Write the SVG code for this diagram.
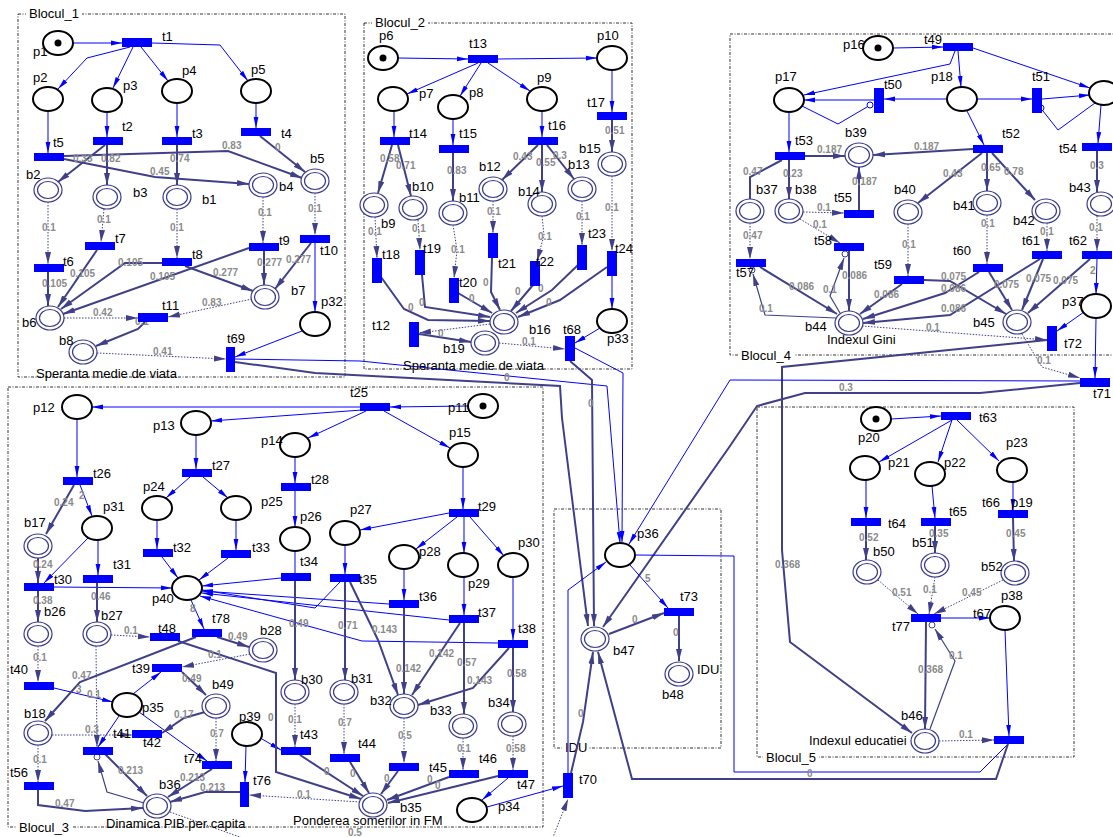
<svg xmlns="http://www.w3.org/2000/svg" width="1113" height="837" viewBox="0 0 1113 837">
<style>
.pl{fill:#fff;stroke:#000;stroke-width:2}
.bo{fill:#fff;stroke:#3a3a8e;stroke-width:1.2}
.bi{fill:none;stroke:#3a3a8e;stroke-width:1.2}
.tr{fill:#0000ff}
.tk{fill:#000}
.c{fill:none;stroke:#0000ff;stroke-width:1;marker-end:url(#ab)}
.cn{fill:none;stroke:#0000ff;stroke-width:1}
.m{fill:none;stroke:#40408a;stroke-width:2;marker-end:url(#an)}
.mn{fill:none;stroke:#40408a;stroke-width:2}
.h{fill:none;stroke:#40408a;stroke-width:1.2;marker-end:url(#an)}
.d{fill:none;stroke:#40408a;stroke-width:1;stroke-dasharray:1.5 1.5;marker-end:url(#an)}
.dn{fill:none;stroke:#40408a;stroke-width:1;stroke-dasharray:1.5 1.5}
.inh{fill:#fff;stroke:#40408a;stroke-width:1}
.lb{font-family:'Liberation Sans',Arial,sans-serif;font-size:13px;fill:#000}
.w{font-family:'Liberation Sans',Arial,sans-serif;font-size:10px;font-weight:bold;fill:#8a8a8a}
.box{fill:none;stroke:#333;stroke-width:1;stroke-dasharray:3 1.5 1 1.5}
.bg{fill:#fff}
</style>
<defs>
<marker id="ab" markerWidth="11" markerHeight="6" refX="11" refY="3" orient="auto" markerUnits="userSpaceOnUse"><path d="M0,0.6 L11,3 L0,5.4 z" fill="#0000ff"/></marker>
<marker id="an" markerWidth="12" markerHeight="7" refX="12" refY="3.5" orient="auto" markerUnits="userSpaceOnUse"><path d="M0,0.5 L12,3.5 L0,6.5 z" fill="#40408a"/></marker>
</defs>
<rect width="1113" height="837" fill="#fff"/>

<g id="blocks">
<rect class="box" x="18" y="14" width="327" height="363"/>
<rect class="bg" x="26" y="6" width="56" height="15"/><text class="lb" x="29" y="18">Blocul_1</text>
<rect class="box" x="364" y="23" width="268" height="346"/>
<rect class="bg" x="372" y="15" width="56" height="15"/><text class="lb" x="375" y="27">Blocul_2</text>
<rect class="box" x="730" y="34" width="400" height="321"/>
<rect class="bg" x="738" y="349" width="56" height="15"/><text class="lb" x="741" y="360">Blocul_4</text>
<rect class="box" x="8" y="387" width="535" height="440"/>
<rect class="bg" x="16" y="821" width="56" height="15"/><text class="lb" x="19" y="832">Blocul_3</text>
<rect class="box" x="757" y="407" width="317" height="350"/>
<rect class="bg" x="763" y="751" width="56" height="15"/><text class="lb" x="766" y="762">Blocul_5</text>
<rect class="box" x="554" y="509" width="167" height="239"/>
<rect class="bg" x="562" y="742" width="26" height="14"/><text class="lb" x="565" y="752">IDU</text>
</g>

<g id="connectors">
<!-- Block 1 -->
<path class="c" d="M73,43 L122,43"/>
<path class="c" d="M130,47 L87,58 L58,89"/>
<path class="c" d="M133,47 L113,88"/>
<path class="c" d="M141,47 L168,81"/>
<path class="c" d="M152,43 L220,45 L248,81"/>
<path class="c" d="M48,111 L48,153"/>
<path class="c" d="M107,112 L107,137"/>
<path class="c" d="M177,103 L177,137"/>
<path class="c" d="M256,103 L256,128"/>
<path class="c" d="M315,243 L315,312"/>
<path class="c" d="M302,331 L235,357"/>
<path class="m" d="M105,145 L58,182"/>
<path class="m" d="M107,145 L107,185"/>
<path class="m" d="M177,145 L177,185"/>
<path class="m" d="M260,136 L305,172"/>
<path class="m" d="M64,156 L228,151 L302,178"/>
<path class="m" d="M64,159 L155,177 L249,184"/>
<path class="d" d="M48,202 L48,264"/>
<path class="d" d="M104,209 L101,242"/>
<path class="d" d="M177,209 L177,258"/>
<path class="d" d="M263,197 L263,243"/>
<path class="d" d="M315,193 L315,235"/>
<path class="m" d="M48,272 L48,306"/>
<path class="m" d="M97,250 L58,307"/>
<path class="m" d="M165,263 L125,263 L61,309"/>
<path class="m" d="M249,248 L63,314"/>
<path class="m" d="M185,266 L253,291"/>
<path class="m" d="M264,251 L264,285"/>
<path class="m" d="M311,243 L275,289"/>
<path class="d" d="M252,299 L168,317"/>
<path class="d" d="M64,318 L138,318"/>
<path class="m" d="M145,322 L138,329 L96,346"/>
<path class="d" d="M97,353 L226,359"/>
<!-- Block 2 -->
<path class="c" d="M398,58 L468,59"/>
<path class="c" d="M498,59 L597,58"/>
<path class="c" d="M478,63 L407,94"/>
<path class="c" d="M481,63 L460,96"/>
<path class="c" d="M488,63 L530,91"/>
<path class="c" d="M394,111 L394,137"/>
<path class="c" d="M453,119 L453,145"/>
<path class="c" d="M542,111 L542,137"/>
<path class="c" d="M612,70 L612,112"/>
<path class="c" d="M612,276 L612,309"/>
<path class="c" d="M600,328 L575,343"/>
<path class="m" d="M392,145 L378,193"/>
<path class="m" d="M398,145 L411,196"/>
<path class="m" d="M453,153 L453,201"/>
<path class="m" d="M538,145 L502,180"/>
<path class="m" d="M542,145 L542,192"/>
<path class="m" d="M547,145 L574,179"/>
<path class="m" d="M612,120 L612,152"/>
<path class="d" d="M375,217 L377,258"/>
<path class="d" d="M418,220 L420,250"/>
<path class="d" d="M453,225 L457,250 L454,278"/>
<path class="d" d="M493,201 L493,233"/>
<path class="d" d="M542,216 L544,235 L537,261"/>
<path class="d" d="M582,201 L582,245"/>
<path class="d" d="M612,176 L612,251"/>
<path class="m" d="M381,277 L404,309 L428,320 L490,321"/>
<path class="m" d="M422,275 L425,307 L490,317"/>
<path class="m" d="M458,293 L492,313"/>
<path class="m" d="M492,258 L491,292 L500,310"/>
<path class="m" d="M533,285 L511,311"/>
<path class="m" d="M578,265 L552,290 L516,313"/>
<path class="m" d="M607,267 L560,300 L518,317"/>
<path class="d" d="M490,324 L419,333"/>
<path class="m" d="M419,334 L471,342"/>
<path class="d" d="M499,343 L565,349"/>
<!-- Block 4 -->
<path class="c" d="M893,48 L943,47"/>
<path class="c" d="M955,51 L950,64 L804,95"/>
<path class="c" d="M958,51 L961,87"/>
<path class="c" d="M973,48 L1090,88"/>
<path class="c" d="M947,99 L884,99"/>
<path class="c" d="M874,100 L804,100"/>
<path class="c" d="M977,99 L1032,99"/>
<path class="c" d="M1042,99 L1090,95"/>
<path class="cn" d="M802,106 L838,124 L867,107"/>
<circle cx="870" cy="105" r="3" fill="#fff" stroke="#0000ff"/>
<path class="cn" d="M1095,103 L1058,130 L1043,111"/>
<circle cx="1041" cy="108" r="3" fill="#fff" stroke="#0000ff"/>
<path class="c" d="M789,112 L789,152"/>
<path class="c" d="M967,111 L984,145"/>
<path class="c" d="M1101,105 L1098,143"/>
<path class="c" d="M1097,259 L1096,294"/>
<path class="c" d="M1084,312 L1057,331"/>
<path class="c" d="M1096,318 L1095,378"/>
<path class="m" d="M805,156 L845,156"/>
<path class="m" d="M973,149 L873,155"/>
<path class="mn" d="M782,160 L750,177 L750,199"/>
<path class="m" d="M789,160 L789,199"/>
<path class="m" d="M859,210 L859,167"/>
<path class="m" d="M982,153 L918,203"/>
<path class="m" d="M987,153 L987,191"/>
<path class="m" d="M992,153 L1035,200"/>
<path class="m" d="M1097,151 L1097,192"/>
<path class="d" d="M803,212 L844,213"/>
<path class="d" d="M800,219 L840,243"/>
<path class="d" d="M750,223 L750,259"/>
<path class="d" d="M908,224 L908,276"/>
<path class="d" d="M987,215 L987,264"/>
<path class="d" d="M1047,223 L1047,251"/>
<path class="d" d="M1097,216 L1097,251"/>
<path class="m" d="M760,267 L837,314"/>
<path class="h" d="M836,318 L765,315 L753,274"/>
<circle class="inh" cx="752" cy="270" r="3"/>
<path class="m" d="M849,251 L849,311"/>
<path class="h" d="M840,313 L830,296 L844,258"/>
<circle class="inh" cx="845" cy="254" r="3"/>
<path class="m" d="M902,284 L860,314"/>
<path class="m" d="M924,280 L950,281 L1006,314"/>
<path class="m" d="M979,272 L945,293 L863,319"/>
<path class="m" d="M989,272 L1012,310"/>
<path class="m" d="M1040,259 L950,315 L863,323"/>
<path class="m" d="M1043,259 L1022,310"/>
<path class="m" d="M1090,259 L1028,313"/>
<path class="d" d="M862,326 L1047,340"/>
<path class="d" d="M1022,334 L1042,367 L1080,378"/>
<path class="m" d="M1047,340 L782,367 L782,550 L790,642 L912,733"/>
<path class="m" d="M1080,383 L980,393 L805,393 L757,406 L730,446 L603,627"/>
<path class="c" d="M1080,381 L730,380 L629,544"/>
<!-- Block 5 -->
<path class="c" d="M891,419 L941,416"/>
<path class="c" d="M952,420 L879,462"/>
<path class="c" d="M952,420 L938,462"/>
<path class="c" d="M957,420 L999,461"/>
<path class="c" d="M866,480 L866,518"/>
<path class="c" d="M932,486 L935,518"/>
<path class="c" d="M1013,482 L1013,510"/>
<path class="c" d="M941,618 L990,618"/>
<path class="c" d="M1005,630 L1009,736"/>
<path class="cn" d="M1008,744 L980,772 L734,772 L734,556 L636,555"/>
<path class="m" d="M866,526 L866,560"/>
<path class="m" d="M935,526 L935,553"/>
<path class="m" d="M1013,518 L1014,561"/>
<path class="d" d="M878,580 L918,614"/>
<path class="d" d="M935,577 L929,614"/>
<path class="d" d="M1003,580 L934,614"/>
<path class="m" d="M926,622 L925,729"/>
<path class="h" d="M930,729 L955,661 L935,629"/>
<circle class="inh" cx="932" cy="625" r="3"/>
<path class="d" d="M939,741 L994,740"/>
<path class="m" d="M1008,744 L996,779 L632,779 L598,652"/>
<!-- IDU -->
<path class="c" d="M575,348 L623,373 L622,542"/>
<path class="c" d="M235,359 L360,361 L607,386 L620,543"/>
<path class="m" d="M235,362 L315,373 L560,386 L562,418 L588,626"/>
<path class="m" d="M570,361 L592,380 L594,626"/>
<path class="c" d="M630,565 L668,608"/>
<path class="m" d="M609,634 L664,613"/>
<path class="m" d="M679,616 L679,661"/>
<path class="m" d="M571,773 L583,722 L593,652"/>
<path class="c" d="M568,773 L568,590 L606,562"/>
<path class="c" d="M487,807 L563,786"/>
<path class="d" d="M170,812 L262,845 L550,845 L568,799"/>
<!-- Block 3 -->
<path class="c" d="M468,406 L390,407"/>
<path class="c" d="M360,407 L92,407"/>
<path class="c" d="M362,410 L211,421"/>
<path class="c" d="M366,411 L308,438"/>
<path class="c" d="M384,411 L450,448"/>
<path class="c" d="M77,419 L77,477"/>
<path class="c" d="M196,435 L196,469"/>
<path class="c" d="M295,457 L295,483"/>
<path class="c" d="M463,467 L463,509"/>
<path class="c" d="M190,477 L166,498"/>
<path class="c" d="M203,477 L228,498"/>
<path class="c" d="M295,491 L295,527"/>
<path class="c" d="M449,513 L360,530"/>
<path class="c" d="M457,517 L416,549"/>
<path class="c" d="M464,517 L464,553"/>
<path class="c" d="M470,517 L504,556"/>
<path class="c" d="M80,485 L92,516"/>
<path class="c" d="M157,520 L157,549"/>
<path class="c" d="M236,520 L236,550"/>
<path class="cn" d="M295,551 L295,573"/>
<path class="c" d="M345,545 L345,574"/>
<path class="c" d="M404,569 L404,600"/>
<path class="c" d="M464,577 L464,615"/>
<path class="c" d="M513,577 L513,640"/>
<path class="c" d="M88,538 L44,583"/>
<path class="c" d="M98,540 L98,575"/>
<path class="c" d="M162,557 L178,578"/>
<path class="c" d="M228,558 L199,580"/>
<path class="c" d="M281,578 L202,586"/>
<path class="c" d="M340,582 L315,608 L202,590"/>
<path class="c" d="M389,604 L202,591"/>
<path class="c" d="M449,620 L202,593"/>
<path class="c" d="M498,643 L362,641 L200,596"/>
<path class="c" d="M54,587 L172,588"/>
<path class="c" d="M191,600 L204,629"/>
<path class="c" d="M54,688 L113,702"/>
<path class="c" d="M133,694 L161,672"/>
<path class="c" d="M119,716 L98,747"/>
<path class="c" d="M139,712 L207,761"/>
<path class="c" d="M246,746 L245,782"/>
<path class="c" d="M262,739 L281,750"/>
<path class="m" d="M74,485 L46,534"/>
<path class="m" d="M38,558 L38,583"/>
<path class="m" d="M38,591 L38,622"/>
<path class="m" d="M97,583 L97,622"/>
<path class="d" d="M38,646 L38,682"/>
<path class="d" d="M96,646 L97,747"/>
<path class="d" d="M111,635 L150,637"/>
<path class="m" d="M217,637 L249,647"/>
<path class="d" d="M250,654 L182,667"/>
<path class="m" d="M182,672 L206,695"/>
<path class="m" d="M196,637 L80,682 L45,721"/>
<path class="m" d="M178,641 L276,673 L276,772 L361,799"/>
<path class="d" d="M52,735 L132,735"/>
<path class="d" d="M38,745 L38,782"/>
<path class="m" d="M38,790 L38,805 L85,811 L143,808"/>
<path class="m" d="M105,754 L147,796"/>
<path class="h" d="M144,803 L107,792 L98,761"/>
<circle class="inh" cx="97" cy="757" r="3"/>
<path class="m" d="M212,769 L168,797"/>
<path class="m" d="M240,792 L205,792 L170,802"/>
<path class="d" d="M360,802 L249,795"/>
<path class="m" d="M205,712 L184,718 L162,733"/>
<path class="d" d="M216,718 L216,761"/>
<path class="m" d="M295,581 L295,680"/>
<path class="m" d="M345,582 L345,680"/>
<path class="m" d="M350,582 L378,640 L398,695"/>
<path class="m" d="M404,608 L404,694"/>
<path class="m" d="M460,623 L412,695"/>
<path class="m" d="M464,623 L464,714"/>
<path class="m" d="M509,648 L473,688 L418,705"/>
<path class="m" d="M513,648 L513,712"/>
<path class="d" d="M295,704 L295,747"/>
<path class="d" d="M344,704 L344,754"/>
<path class="d" d="M404,718 L404,763"/>
<path class="d" d="M463,738 L463,770"/>
<path class="d" d="M513,736 L513,770"/>
<path class="m" d="M300,755 L363,796"/>
<path class="m" d="M350,762 L369,793"/>
<path class="m" d="M398,771 L381,794"/>
<path class="m" d="M449,777 L387,800"/>
<path class="m" d="M498,776 L388,803"/>
<path class="c" d="M508,778 L482,800"/>
</g>

<g id="arc-labels">
<text class="w" x="73" y="162">0.33</text><text class="w" x="101" y="162">0.82</text><text class="w" x="170" y="162">0.74</text>
<text class="w" x="222" y="149">0.83</text><text class="w" x="275" y="151">0</text><text class="w" x="150" y="175">0.45</text>
<text class="w" x="42" y="231">0.1</text><text class="w" x="97" y="223">0.1</text><text class="w" x="170" y="231">0.1</text>
<text class="w" x="258" y="216">0.1</text><text class="w" x="308" y="212">0.1</text>
<text class="w" x="118" y="266">0.105</text><text class="w" x="70" y="277">0.105</text><text class="w" x="150" y="280">0.105</text><text class="w" x="42" y="287">0.105</text>
<text class="w" x="257" y="266">0.277</text><text class="w" x="286" y="263">0.277</text><text class="w" x="213" y="276">0.277</text>
<text class="w" x="93" y="316">0.42</text><text class="w" x="202" y="306">0.83</text><text class="w" x="135" y="325">0.1</text><text class="w" x="153" y="355">0.41</text>
<text class="w" x="380" y="162">0.58</text><text class="w" x="396" y="169">0.71</text><text class="w" x="447" y="174">0.83</text>
<text class="w" x="513" y="160">0.43</text><text class="w" x="536" y="166">0.55</text><text class="w" x="553" y="159">0.3</text><text class="w" x="605" y="134">0.51</text>
<text class="w" x="368" y="235">0.1</text><text class="w" x="412" y="232">0.1</text><text class="w" x="451" y="253">0.1</text><text class="w" x="487" y="215">0.1</text>
<text class="w" x="538" y="240">0.1</text><text class="w" x="576" y="220">0.1</text><text class="w" x="605" y="211">0.1</text>
<text class="w" x="408" y="311">0</text><text class="w" x="419" y="306">0</text><text class="w" x="469" y="302">0</text><text class="w" x="483" y="286">0</text>
<text class="w" x="515" y="295">0</text><text class="w" x="538" y="292">0</text><text class="w" x="546" y="306">0</text><text class="w" x="438" y="337">0</text><text class="w" x="522" y="345">0.1</text>
<text class="w" x="504" y="381">0</text><text class="w" x="588" y="407">0</text>
<text class="w" x="817" y="153">0.187</text><text class="w" x="914" y="150">0.187</text><text class="w" x="743" y="175">0.47</text><text class="w" x="783" y="177">0.23</text>
<text class="w" x="852" y="185">0.187</text><text class="w" x="943" y="177">0.43</text><text class="w" x="981" y="171">0.65</text><text class="w" x="1004" y="175">0.78</text><text class="w" x="1090" y="169">0.3</text>
<text class="w" x="817" y="211">0.1</text><text class="w" x="813" y="228">0.1</text><text class="w" x="743" y="239">0.47</text><text class="w" x="902" y="248">0.1</text>
<text class="w" x="981" y="227">0.1</text><text class="w" x="1040" y="235">0.1</text><text class="w" x="1089" y="231">0.1</text><text class="w" x="1090" y="274">2</text>
<text class="w" x="842" y="279">0.086</text><text class="w" x="789" y="290">0.086</text><text class="w" x="823" y="293">0.1</text><text class="w" x="759" y="312">0.1</text>
<text class="w" x="874" y="298">0.086</text><text class="w" x="941" y="280">0.075</text><text class="w" x="941" y="292">0.086</text><text class="w" x="994" y="288">0.075</text>
<text class="w" x="1026" y="282">0.075</text><text class="w" x="1053" y="284">0.075</text><text class="w" x="941" y="312">0.086</text><text class="w" x="926" y="331">0.1</text>
<text class="w" x="1037" y="364">0.1</text><text class="w" x="839" y="391">0.3</text>
<text class="w" x="859" y="541">0.52</text><text class="w" x="929" y="537">0.35</text><text class="w" x="1006" y="537">0.45</text>
<text class="w" x="892" y="596">0.51</text><text class="w" x="923" y="593">0.1</text><text class="w" x="962" y="596">0.45</text>
<text class="w" x="949" y="659">0.1</text><text class="w" x="918" y="673">0.368</text><text class="w" x="959" y="738">0.1</text>
<text class="w" x="807" y="777">0</text><text class="w" x="775" y="568">0.368</text>
<text class="w" x="645" y="582">5</text><text class="w" x="632" y="623">0</text><text class="w" x="673" y="636">0</text><text class="w" x="578" y="717">0</text>
<text class="w" x="54" y="506">0.24</text><text class="w" x="79" y="499">2</text><text class="w" x="33" y="568">0.24</text><text class="w" x="33" y="604">0.38</text>
<text class="w" x="91" y="600">0.46</text><text class="w" x="33" y="661">0.1</text><text class="w" x="124" y="634">0.1</text><text class="w" x="190" y="612">8</text>
<text class="w" x="228" y="640">0.49</text><text class="w" x="208" y="658">0.1</text><text class="w" x="72" y="679">0.47</text><text class="w" x="76" y="693">3</text>
<text class="w" x="87" y="698">0.1</text><text class="w" x="182" y="682">0.49</text><text class="w" x="174" y="718">0.17</text><text class="w" x="85" y="733">0.3</text>
<text class="w" x="210" y="737">0.7</text><text class="w" x="268" y="721">0</text><text class="w" x="288" y="723">0.1</text><text class="w" x="338" y="726">0.7</text>
<text class="w" x="33" y="763">0.1</text><text class="w" x="118" y="774">0.213</text><text class="w" x="180" y="781">0.213</text><text class="w" x="200" y="791">0.213</text>
<text class="w" x="297" y="798">0.1</text><text class="w" x="55" y="807">0.47</text><text class="w" x="324" y="775">0</text><text class="w" x="350" y="777">0</text>
<text class="w" x="348" y="836">0.5</text>
<text class="w" x="289" y="627">0.49</text><text class="w" x="338" y="629">0.71</text><text class="w" x="372" y="633">0.143</text><text class="w" x="396" y="672">0.142</text>
<text class="w" x="429" y="657">0.142</text><text class="w" x="457" y="666">0.57</text><text class="w" x="467" y="684">0.143</text><text class="w" x="507" y="677">0.58</text>
<text class="w" x="398" y="739">0.5</text><text class="w" x="457" y="752">0.1</text><text class="w" x="506" y="752">0.58</text>
<text class="w" x="384" y="782">0</text><text class="w" x="427" y="783">0</text><text class="w" x="435" y="789">0</text>
</g>

<!-- Block 1 nodes -->
<g id="p1"><ellipse class="pl" cx="58" cy="43" rx="15" ry="12"/><circle class="tk" cx="58" cy="43" r="3.5"/><text class="lb" x="33" y="56">p1</text></g>
<g id="t1"><rect class="tr" x="122" y="38" width="30" height="9"/><text class="lb" x="162" y="41">t1</text></g>
<g id="p2"><ellipse class="pl" cx="48" cy="99" rx="15" ry="12"/><text class="lb" x="33" y="82">p2</text></g>
<g id="p3"><ellipse class="pl" cx="107" cy="100" rx="15" ry="12"/><text class="lb" x="123" y="90">p3</text></g>
<g id="p4"><ellipse class="pl" cx="177" cy="91" rx="15" ry="12"/><text class="lb" x="182" y="75">p4</text></g>
<g id="p5"><ellipse class="pl" cx="256" cy="91" rx="15" ry="12"/><text class="lb" x="251" y="74">p5</text></g>
<g id="t2"><rect class="tr" x="93" y="137" width="30" height="8"/><text class="lb" x="122" y="131">t2</text></g>
<g id="t3"><rect class="tr" x="162" y="137" width="30" height="8"/><text class="lb" x="192" y="138">t3</text></g>
<g id="t4"><rect class="tr" x="241" y="128" width="30" height="8"/><text class="lb" x="281" y="138">t4</text></g>
<g id="t5"><rect class="tr" x="34" y="153" width="30" height="8"/><text class="lb" x="53" y="147">t5</text></g>
<g id="b2"><ellipse class="bo" cx="48" cy="190" rx="14" ry="12"/><ellipse class="bi" cx="48" cy="190" rx="10.5" ry="8.5"/><text class="lb" x="26" y="179">b2</text></g>
<g id="b3"><ellipse class="bo" cx="107" cy="197" rx="14" ry="12"/><ellipse class="bi" cx="107" cy="197" rx="10.5" ry="8.5"/><text class="lb" x="133" y="197">b3</text></g>
<g id="b1"><ellipse class="bo" cx="177" cy="197" rx="14" ry="12"/><ellipse class="bi" cx="177" cy="197" rx="10.5" ry="8.5"/><text class="lb" x="202" y="204">b1</text></g>
<g id="b4"><ellipse class="bo" cx="263" cy="185" rx="14" ry="12"/><ellipse class="bi" cx="263" cy="185" rx="10.5" ry="8.5"/><text class="lb" x="279" y="191">b4</text></g>
<g id="b5"><ellipse class="bo" cx="315" cy="181" rx="14" ry="12"/><ellipse class="bi" cx="315" cy="181" rx="10.5" ry="8.5"/><text class="lb" x="310" y="163">b5</text></g>
<g id="t6"><rect class="tr" x="34" y="264" width="30" height="8"/><text class="lb" x="63" y="266">t6</text></g>
<g id="t7"><rect class="tr" x="85" y="242" width="30" height="8"/><text class="lb" x="115" y="243">t7</text></g>
<g id="t8"><rect class="tr" x="162" y="258" width="30" height="8"/><text class="lb" x="192" y="259">t8</text></g>
<g id="t9"><rect class="tr" x="249" y="243" width="30" height="8"/><text class="lb" x="279" y="245">t9</text></g>
<g id="t10"><rect class="tr" x="300" y="235" width="30" height="8"/><text class="lb" x="320" y="255">t10</text></g>
<g id="b6"><ellipse class="bo" cx="50" cy="318" rx="14" ry="12"/><ellipse class="bi" cx="50" cy="318" rx="10.5" ry="8.5"/><text class="lb" x="22" y="327">b6</text></g>
<g id="b7"><ellipse class="bo" cx="265" cy="297" rx="14" ry="12"/><ellipse class="bi" cx="265" cy="297" rx="10.5" ry="8.5"/><text class="lb" x="291" y="295">b7</text></g>
<g id="t11"><rect class="tr" x="138" y="313" width="30" height="9"/><text class="lb" x="162" y="310">t11</text></g>
<g id="b8"><ellipse class="bo" cx="83" cy="352" rx="14" ry="12"/><ellipse class="bi" cx="83" cy="352" rx="10.5" ry="8.5"/><text class="lb" x="59" y="345">b8</text><text class="lb" x="36" y="378">Speranta medie de viata</text></g>
<g id="p32"><ellipse class="pl" cx="315" cy="324" rx="15" ry="12"/><text class="lb" x="321" y="306">p32</text></g>
<g id="t69"><rect class="tr" x="226" y="347" width="9" height="25"/><text class="lb" x="227" y="343">t69</text></g>

<!-- Block 2 nodes -->
<g id="p6"><ellipse class="pl" cx="383" cy="58" rx="15" ry="12"/><circle class="tk" cx="383" cy="58" r="3.5"/><text class="lb" x="379" y="40">p6</text></g>
<g id="t13"><rect class="tr" x="468" y="55" width="30" height="8"/><text class="lb" x="469" y="48">t13</text></g>
<g id="p10"><ellipse class="pl" cx="612" cy="58" rx="15" ry="12"/><text class="lb" x="597" y="40">p10</text></g>
<g id="p7"><ellipse class="pl" cx="393" cy="99" rx="15" ry="12"/><text class="lb" x="419" y="98">p7</text></g>
<g id="p8"><ellipse class="pl" cx="453" cy="107" rx="15" ry="12"/><text class="lb" x="469" y="97">p8</text></g>
<g id="p9"><ellipse class="pl" cx="542" cy="99" rx="15" ry="12"/><text class="lb" x="537" y="82">p9</text></g>
<g id="t14"><rect class="tr" x="380" y="137" width="30" height="8"/><text class="lb" x="409" y="138">t14</text></g>
<g id="t15"><rect class="tr" x="439" y="145" width="30" height="8"/><text class="lb" x="459" y="138">t15</text></g>
<g id="t16"><rect class="tr" x="528" y="137" width="30" height="8"/><text class="lb" x="548" y="130">t16</text></g>
<g id="t17"><rect class="tr" x="597" y="112" width="30" height="8"/><text class="lb" x="587" y="107">t17</text></g>
<g id="b9"><ellipse class="bo" cx="374" cy="205" rx="14" ry="12"/><ellipse class="bi" cx="374" cy="205" rx="10.5" ry="8.5"/><text class="lb" x="381" y="228">b9</text></g>
<g id="b10"><ellipse class="bo" cx="413" cy="208" rx="14" ry="12"/><ellipse class="bi" cx="413" cy="208" rx="10.5" ry="8.5"/><text class="lb" x="412" y="191">b10</text></g>
<g id="b11"><ellipse class="bo" cx="453" cy="213" rx="14" ry="12"/><ellipse class="bi" cx="453" cy="213" rx="10.5" ry="8.5"/><text class="lb" x="459" y="202">b11</text></g>
<g id="b12"><ellipse class="bo" cx="493" cy="189" rx="14" ry="12"/><ellipse class="bi" cx="493" cy="189" rx="10.5" ry="8.5"/><text class="lb" x="479" y="171">b12</text></g>
<g id="b14"><ellipse class="bo" cx="542" cy="204" rx="14" ry="12"/><ellipse class="bi" cx="542" cy="204" rx="10.5" ry="8.5"/><text class="lb" x="518" y="196">b14</text></g>
<g id="b13"><ellipse class="bo" cx="582" cy="189" rx="14" ry="12"/><ellipse class="bi" cx="582" cy="189" rx="10.5" ry="8.5"/><text class="lb" x="568" y="169">b13</text></g>
<g id="b15"><ellipse class="bo" cx="612" cy="164" rx="14" ry="12"/><ellipse class="bi" cx="612" cy="164" rx="10.5" ry="8.5"/><text class="lb" x="579" y="153">b15</text></g>
<g id="t18"><rect class="tr" x="372" y="258" width="10" height="25"/><text class="lb" x="382" y="259">t18</text></g>
<g id="t19"><rect class="tr" x="415" y="250" width="10" height="25"/><text class="lb" x="423" y="253">t19</text></g>
<g id="t20"><rect class="tr" x="449" y="278" width="10" height="25"/><text class="lb" x="459" y="287">t20</text></g>
<g id="t21"><rect class="tr" x="488" y="233" width="10" height="25"/><text class="lb" x="498" y="268">t21</text></g>
<g id="t22"><rect class="tr" x="530" y="261" width="10" height="25"/><text class="lb" x="536" y="266">t22</text></g>
<g id="t23"><rect class="tr" x="577" y="245" width="10" height="25"/><text class="lb" x="588" y="238">t23</text></g>
<g id="t24"><rect class="tr" x="607" y="251" width="10" height="25"/><text class="lb" x="615" y="253">t24</text></g>
<g id="b16"><ellipse class="bo" cx="504" cy="322" rx="14" ry="12"/><ellipse class="bi" cx="504" cy="322" rx="10.5" ry="8.5"/><text class="lb" x="529" y="334">b16</text></g>
<g id="t12"><rect class="tr" x="409" y="322" width="10" height="25"/><text class="lb" x="372" y="330">t12</text></g>
<g id="b19"><ellipse class="bo" cx="485" cy="343" rx="14" ry="12"/><ellipse class="bi" cx="485" cy="343" rx="10.5" ry="8.5"/><text class="lb" x="443" y="353">b19</text><text class="lb" x="403" y="370">Speranta medie de viata</text></g>
<g id="t68"><rect class="tr" x="565" y="336" width="10" height="25"/><text class="lb" x="563" y="334">t68</text></g>
<g id="p33"><ellipse class="pl" cx="612" cy="321" rx="15" ry="12"/><text class="lb" x="607" y="343">p33</text></g>

<!-- Block 4 nodes -->
<g id="p16"><ellipse class="pl" cx="878" cy="48" rx="15" ry="12"/><circle class="tk" cx="878" cy="48" r="3.5"/><text class="lb" x="843" y="49">p16</text></g>
<g id="t49"><rect class="tr" x="943" y="43" width="30" height="8"/><text class="lb" x="924" y="44">t49</text></g>
<g id="p17"><ellipse class="pl" cx="789" cy="100" rx="15" ry="12"/><text class="lb" x="775" y="81">p17</text></g>
<g id="t50"><rect class="tr" x="874" y="88" width="10" height="25"/><text class="lb" x="884" y="89">t50</text></g>
<g id="p18"><ellipse class="pl" cx="962" cy="99" rx="15" ry="12"/><text class="lb" x="931" y="81">p18</text></g>
<g id="t51"><rect class="tr" x="1032" y="88" width="10" height="25"/><text class="lb" x="1032" y="81">t51</text></g>
<g id="p19"><ellipse class="pl" cx="1104" cy="93" rx="15" ry="12"/></g>
<g id="t53"><rect class="tr" x="775" y="152" width="30" height="8"/><text class="lb" x="795" y="145">t53</text></g>
<g id="b39"><ellipse class="bo" cx="859" cy="155" rx="14" ry="12"/><ellipse class="bi" cx="859" cy="155" rx="10.5" ry="8.5"/><text class="lb" x="845" y="137">b39</text></g>
<g id="t52"><rect class="tr" x="973" y="145" width="30" height="8"/><text class="lb" x="1002" y="138">t52</text></g>
<g id="t54"><rect class="tr" x="1082" y="143" width="30" height="8"/><text class="lb" x="1059" y="153">t54</text></g>
<g id="b37"><ellipse class="bo" cx="750" cy="211" rx="14" ry="12"/><ellipse class="bi" cx="750" cy="211" rx="10.5" ry="8.5"/><text class="lb" x="756" y="194">b37</text></g>
<g id="b38"><ellipse class="bo" cx="789" cy="211" rx="14" ry="12"/><ellipse class="bi" cx="789" cy="211" rx="10.5" ry="8.5"/><text class="lb" x="795" y="194">b38</text></g>
<g id="t55"><rect class="tr" x="844" y="210" width="30" height="8"/><text class="lb" x="834" y="202">t55</text></g>
<g id="b40"><ellipse class="bo" cx="908" cy="212" rx="14" ry="12"/><ellipse class="bi" cx="908" cy="212" rx="10.5" ry="8.5"/><text class="lb" x="894" y="194">b40</text></g>
<g id="b41"><ellipse class="bo" cx="987" cy="203" rx="14" ry="12"/><ellipse class="bi" cx="987" cy="203" rx="10.5" ry="8.5"/><text class="lb" x="953" y="210">b41</text></g>
<g id="b42"><ellipse class="bo" cx="1046" cy="211" rx="14" ry="12"/><ellipse class="bi" cx="1046" cy="211" rx="10.5" ry="8.5"/><text class="lb" x="1013" y="225">b42</text></g>
<g id="b43"><ellipse class="bo" cx="1101" cy="204" rx="14" ry="12"/><ellipse class="bi" cx="1101" cy="204" rx="10.5" ry="8.5"/><text class="lb" x="1069" y="192">b43</text></g>
<g id="t58"><rect class="tr" x="834" y="243" width="30" height="8"/><text class="lb" x="814" y="245">t58</text></g>
<g id="t57"><rect class="tr" x="736" y="259" width="30" height="8"/><text class="lb" x="736" y="277">t57</text></g>
<g id="t59"><rect class="tr" x="894" y="276" width="30" height="8"/><text class="lb" x="874" y="269">t59</text></g>
<g id="t60"><rect class="tr" x="973" y="264" width="30" height="8"/><text class="lb" x="953" y="255">t60</text></g>
<g id="t61"><rect class="tr" x="1032" y="251" width="30" height="8"/><text class="lb" x="1022" y="245">t61</text></g>
<g id="t62"><rect class="tr" x="1082" y="251" width="30" height="8"/><text class="lb" x="1069" y="245">t62</text></g>
<g id="b44"><ellipse class="bo" cx="849" cy="323" rx="14" ry="12"/><ellipse class="bi" cx="849" cy="323" rx="10.5" ry="8.5"/><text class="lb" x="805" y="331">b44</text><text class="lb" x="827" y="344">Indexul Gini</text></g>
<g id="b45"><ellipse class="bo" cx="1017" cy="322" rx="14" ry="12"/><ellipse class="bi" cx="1017" cy="322" rx="10.5" ry="8.5"/><text class="lb" x="973" y="327">b45</text></g>
<g id="p37"><ellipse class="pl" cx="1096" cy="306" rx="15" ry="12"/><text class="lb" x="1062" y="306">p37</text></g>
<g id="t72"><rect class="tr" x="1047" y="326" width="10" height="25"/><text class="lb" x="1064" y="348">t72</text></g>
<g id="t71"><rect class="tr" x="1080" y="378" width="30" height="9"/><text class="lb" x="1093" y="398">t71</text></g>

<!-- Block 5 nodes -->
<g id="p20"><ellipse class="pl" cx="876" cy="419" rx="15" ry="12"/><circle class="tk" cx="876" cy="419" r="3.5"/><text class="lb" x="858" y="442">p20</text></g>
<g id="t63"><rect class="tr" x="941" y="412" width="30" height="8"/><text class="lb" x="979" y="422">t63</text></g>
<g id="p21"><ellipse class="pl" cx="865" cy="468" rx="15" ry="12"/><text class="lb" x="888" y="467">p21</text></g>
<g id="p22"><ellipse class="pl" cx="930" cy="474" rx="15" ry="12"/><text class="lb" x="944" y="467">p22</text></g>
<g id="p23"><ellipse class="pl" cx="1012" cy="470" rx="15" ry="12"/><text class="lb" x="1006" y="447">p23</text></g>
<g id="t64"><rect class="tr" x="851" y="518" width="30" height="8"/><text class="lb" x="888" y="528">t64</text></g>
<g id="t65"><rect class="tr" x="921" y="518" width="30" height="8"/><text class="lb" x="949" y="516">t65</text></g>
<g id="t66"><rect class="tr" x="998" y="510" width="30" height="8"/><text class="lb" x="982" y="507">t66</text><text class="lb" x="1011" y="507">p19</text></g>
<g id="b50"><ellipse class="bo" cx="867" cy="572" rx="14" ry="12"/><ellipse class="bi" cx="867" cy="572" rx="10.5" ry="8.5"/><text class="lb" x="873" y="556">b50</text></g>
<g id="b51"><ellipse class="bo" cx="935" cy="565" rx="14" ry="12"/><ellipse class="bi" cx="935" cy="565" rx="10.5" ry="8.5"/><text class="lb" x="912" y="547">b51</text></g>
<g id="b52"><ellipse class="bo" cx="1015" cy="573" rx="14" ry="12"/><ellipse class="bi" cx="1015" cy="573" rx="10.5" ry="8.5"/><text class="lb" x="981" y="571">b52</text></g>
<g id="t77"><rect class="tr" x="911" y="614" width="30" height="8"/><text class="lb" x="892" y="631">t77</text></g>
<g id="p38"><ellipse class="pl" cx="1005" cy="618" rx="15" ry="12"/><text class="lb" x="1001" y="600">p38</text></g>
<g id="t67"><text class="lb" x="973" y="618">t67</text></g>
<g id="b46"><ellipse class="bo" cx="925" cy="741" rx="14" ry="12"/><ellipse class="bi" cx="925" cy="741" rx="10.5" ry="8.5"/><text class="lb" x="901" y="720">b46</text><text class="lb" x="809" y="745">Indexul educatiei</text></g>
<g id="t79"><rect class="tr" x="994" y="736" width="30" height="8"/></g>

<!-- IDU nodes -->
<g id="p36"><ellipse class="pl" cx="620" cy="555" rx="15" ry="12"/><text class="lb" x="637" y="538">p36</text></g>
<g id="t73"><rect class="tr" x="664" y="608" width="30" height="8"/><text class="lb" x="680" y="601">t73</text></g>
<g id="b47"><ellipse class="bo" cx="595" cy="639" rx="14" ry="12"/><ellipse class="bi" cx="595" cy="639" rx="10.5" ry="8.5"/><text class="lb" x="613" y="655">b47</text></g>
<g id="b48"><ellipse class="bo" cx="679" cy="674" rx="14" ry="12"/><ellipse class="bi" cx="679" cy="674" rx="10.5" ry="8.5"/><text class="lb" x="662" y="699">b48</text><text class="lb" x="697" y="674">IDU</text></g>
<g id="t70"><rect class="tr" x="563" y="773" width="10" height="25"/><text class="lb" x="579" y="784">t70</text></g>

<!-- Block 3 nodes -->
<g id="p12"><ellipse class="pl" cx="77" cy="407" rx="15" ry="12"/><text class="lb" x="33" y="412">p12</text></g>
<g id="t25"><rect class="tr" x="360" y="403" width="30" height="8"/><text class="lb" x="350" y="397">t25</text></g>
<g id="p11"><ellipse class="pl" cx="483" cy="406" rx="15" ry="12"/><circle class="tk" cx="483" cy="406" r="3.5"/><text class="lb" x="448" y="412">p11</text></g>
<g id="p13"><ellipse class="pl" cx="196" cy="423" rx="15" ry="12"/><text class="lb" x="153" y="430">p13</text></g>
<g id="p14"><ellipse class="pl" cx="295" cy="445" rx="15" ry="12"/><text class="lb" x="261" y="445">p14</text></g>
<g id="p15"><ellipse class="pl" cx="463" cy="455" rx="15" ry="12"/><text class="lb" x="449" y="437">p15</text></g>
<g id="t26"><rect class="tr" x="63" y="477" width="30" height="8"/><text class="lb" x="93" y="478">t26</text></g>
<g id="t27"><rect class="tr" x="182" y="469" width="30" height="8"/><text class="lb" x="212" y="470">t27</text></g>
<g id="t28"><rect class="tr" x="281" y="483" width="30" height="8"/><text class="lb" x="311" y="484">t28</text></g>
<g id="p24"><ellipse class="pl" cx="157" cy="508" rx="15" ry="12"/><text class="lb" x="143" y="491">p24</text></g>
<g id="p25"><ellipse class="pl" cx="236" cy="508" rx="15" ry="12"/><text class="lb" x="261" y="506">p25</text></g>
<g id="p26"><ellipse class="pl" cx="295" cy="539" rx="15" ry="12"/><text class="lb" x="300" y="521">p26</text></g>
<g id="p31"><ellipse class="pl" cx="97" cy="528" rx="15" ry="12"/><text class="lb" x="103" y="511">p31</text></g>
<g id="p27"><ellipse class="pl" cx="345" cy="533" rx="15" ry="12"/><text class="lb" x="350" y="514">p27</text></g>
<g id="t29"><rect class="tr" x="449" y="509" width="30" height="8"/><text class="lb" x="478" y="511">t29</text></g>
<g id="p28"><ellipse class="pl" cx="404" cy="557" rx="15" ry="12"/><text class="lb" x="419" y="556">p28</text></g>
<g id="p29"><ellipse class="pl" cx="463" cy="565" rx="15" ry="12"/><text class="lb" x="468" y="588">p29</text></g>
<g id="p30"><ellipse class="pl" cx="513" cy="565" rx="15" ry="12"/><text class="lb" x="518" y="547">p30</text></g>
<g id="b17"><ellipse class="bo" cx="38" cy="546" rx="14" ry="12"/><ellipse class="bi" cx="38" cy="546" rx="10.5" ry="8.5"/><text class="lb" x="24" y="527">b17</text></g>
<g id="t30"><rect class="tr" x="24" y="583" width="30" height="8"/><text class="lb" x="54" y="584">t30</text></g>
<g id="t31"><rect class="tr" x="83" y="575" width="30" height="8"/><text class="lb" x="113" y="569">t31</text></g>
<g id="t32"><rect class="tr" x="143" y="549" width="30" height="8"/><text class="lb" x="173" y="552">t32</text></g>
<g id="t33"><rect class="tr" x="221" y="550" width="30" height="8"/><text class="lb" x="252" y="552">t33</text></g>
<g id="t34"><rect class="tr" x="281" y="573" width="30" height="8"/><text class="lb" x="300" y="566">t34</text></g>
<g id="t35"><rect class="tr" x="330" y="574" width="30" height="8"/><text class="lb" x="359" y="584">t35</text></g>
<g id="t36"><rect class="tr" x="389" y="600" width="30" height="8"/><text class="lb" x="419" y="601">t36</text></g>
<g id="t37"><rect class="tr" x="449" y="615" width="30" height="8"/><text class="lb" x="478" y="617">t37</text></g>
<g id="t38"><rect class="tr" x="498" y="640" width="30" height="8"/><text class="lb" x="518" y="633">t38</text></g>
<g id="p40"><ellipse class="pl" cx="187" cy="588" rx="15" ry="12"/><text class="lb" x="152" y="603">p40</text></g>
<g id="t78"><rect class="tr" x="192" y="629" width="30" height="8"/><text class="lb" x="212" y="623">t78</text></g>
<g id="b26"><ellipse class="bo" cx="38" cy="634" rx="14" ry="12"/><ellipse class="bi" cx="38" cy="634" rx="10.5" ry="8.5"/><text class="lb" x="44" y="616">b26</text></g>
<g id="b27"><ellipse class="bo" cx="97" cy="634" rx="14" ry="12"/><ellipse class="bi" cx="97" cy="634" rx="10.5" ry="8.5"/><text class="lb" x="101" y="620">b27</text></g>
<g id="t48"><rect class="tr" x="150" y="633" width="30" height="8"/><text class="lb" x="158" y="633">t48</text></g>
<g id="b28"><ellipse class="bo" cx="263" cy="650" rx="14" ry="12"/><ellipse class="bi" cx="263" cy="650" rx="10.5" ry="8.5"/><text class="lb" x="260" y="635">b28</text></g>
<g id="t39"><rect class="tr" x="152" y="664" width="30" height="8"/><text class="lb" x="132" y="673">t39</text></g>
<g id="b49"><ellipse class="bo" cx="216" cy="706" rx="14" ry="12"/><ellipse class="bi" cx="216" cy="706" rx="10.5" ry="8.5"/><text class="lb" x="212" y="689">b49</text></g>
<g id="t40"><rect class="tr" x="24" y="682" width="30" height="8"/><text class="lb" x="10" y="674">t40</text></g>
<g id="p35"><ellipse class="pl" cx="127" cy="705" rx="15" ry="12"/><text class="lb" x="142" y="712">p35</text></g>
<g id="b18"><ellipse class="bo" cx="38" cy="733" rx="14" ry="12"/><ellipse class="bi" cx="38" cy="733" rx="10.5" ry="8.5"/><text class="lb" x="24" y="718">b18</text></g>
<g id="t41"><rect class="tr" x="83" y="747" width="30" height="8"/><text class="lb" x="113" y="738">t41</text></g>
<g id="t42"><rect class="tr" x="132" y="730" width="30" height="8"/><text class="lb" x="143" y="747">t42</text></g>
<g id="t74"><rect class="tr" x="202" y="761" width="30" height="8"/><text class="lb" x="184" y="763">t74</text></g>
<g id="p39"><ellipse class="pl" cx="247" cy="734" rx="15" ry="12"/><text class="lb" x="239" y="721">p39</text></g>
<g id="t43"><rect class="tr" x="281" y="747" width="30" height="8"/><text class="lb" x="300" y="739">t43</text></g>
<g id="t56"><rect class="tr" x="24" y="782" width="30" height="8"/><text class="lb" x="10" y="777">t56</text></g>
<g id="b36"><ellipse class="bo" cx="157" cy="806" rx="14" ry="12"/><ellipse class="bi" cx="157" cy="806" rx="10.5" ry="8.5"/><text class="lb" x="159" y="789">b36</text><text class="lb" x="106" y="828">Dinamica PIB per capita</text></g>
<g id="t76"><rect class="tr" x="240" y="782" width="9" height="25"/><text class="lb" x="253" y="785">t76</text></g>
<g id="b30"><ellipse class="bo" cx="295" cy="692" rx="14" ry="12"/><ellipse class="bi" cx="295" cy="692" rx="10.5" ry="8.5"/><text class="lb" x="301" y="684">b30</text></g>
<g id="b31"><ellipse class="bo" cx="344" cy="692" rx="14" ry="12"/><ellipse class="bi" cx="344" cy="692" rx="10.5" ry="8.5"/><text class="lb" x="351" y="683">b31</text></g>
<g id="b32"><ellipse class="bo" cx="404" cy="706" rx="14" ry="12"/><ellipse class="bi" cx="404" cy="706" rx="10.5" ry="8.5"/><text class="lb" x="370" y="705">b32</text></g>
<g id="b33"><ellipse class="bo" cx="463" cy="726" rx="14" ry="12"/><ellipse class="bi" cx="463" cy="726" rx="10.5" ry="8.5"/><text class="lb" x="430" y="715">b33</text></g>
<g id="b34"><ellipse class="bo" cx="512" cy="724" rx="14" ry="12"/><ellipse class="bi" cx="512" cy="724" rx="10.5" ry="8.5"/><text class="lb" x="488" y="707">b34</text></g>
<g id="t44"><rect class="tr" x="330" y="754" width="30" height="8"/><text class="lb" x="358" y="748">t44</text></g>
<g id="t45"><rect class="tr" x="389" y="763" width="30" height="8"/><text class="lb" x="429" y="772">t45</text></g>
<g id="t46"><rect class="tr" x="449" y="770" width="30" height="8"/><text class="lb" x="479" y="763">t46</text></g>
<g id="t47"><rect class="tr" x="498" y="770" width="30" height="8"/><text class="lb" x="517" y="789">t47</text></g>
<g id="b35"><ellipse class="bo" cx="373" cy="805" rx="14" ry="12"/><ellipse class="bi" cx="373" cy="805" rx="10.5" ry="8.5"/><text class="lb" x="400" y="812">b35</text><text class="lb" x="293" y="825">Ponderea somerilor in FM</text></g>
<g id="p34"><ellipse class="pl" cx="472" cy="810" rx="15" ry="12"/><text class="lb" x="498" y="811">p34</text></g>
</svg>
